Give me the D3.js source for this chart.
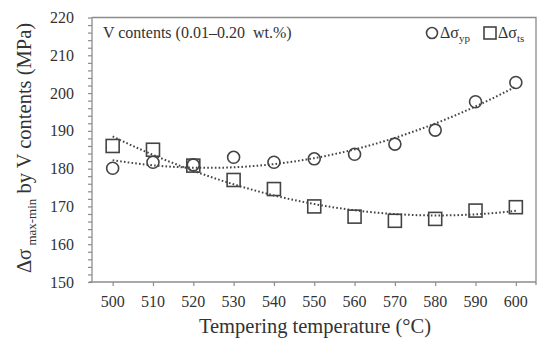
<!DOCTYPE html>
<html>
<head>
<meta charset="utf-8">
<script src="https://cdn.jsdelivr.net/npm/d3@7"></script>
<style>
  body { margin: 0; background: #fff; }
  svg text { font-family: 'Liberation Serif'; fill: #333; }
</style>
</head>
<body>
<svg id="plot"></svg>
<script>
// Data
const temps = [500, 510, 520, 530, 540, 550, 560, 570, 580, 590, 600];
const sigmaYp = [180.1, 181.7, 181.0, 183.0, 181.7, 182.6, 183.8, 186.5, 190.2, 197.7, 202.8];
const sigmaTs = [186.0, 185.0, 180.8, 177.0, 174.6, 170.0, 167.3, 166.2, 166.7, 168.9, 169.8];
const yTicks = [150, 160, 170, 180, 190, 200, 210, 220];

let width = 550;
let height = 349;
let plot = { left: 92, right: 536, top: 17.5, bottom: 282 };
let axisColor = '#8c8c8c';
let markColor = '#444';
let serif = "'Liberation Serif'";

let svg = d3.select('#plot')
    .attr('width', width)
    .attr('height', height);

// Scales (category axis, points in the middle of each slot)
let xScale = d3.scalePoint()
    .domain(temps)
    .range([plot.left + 0.5, plot.right])
    .padding(0.5);
let xLin = d3.scaleLinear()
    .domain([500, 600])
    .range([xScale(500), xScale(600)]);
let yScale = d3.scaleLinear()
    .domain([150, 220])
    .range([plot.bottom, plot.top]);

// Frame: top and right border
svg.append('path')
    .attr('d', `M${plot.left},${plot.top}H${plot.right}V${plot.bottom + 3}`)
    .attr('fill', 'none')
    .attr('stroke', axisColor)
    .attr('stroke-width', 1.3);

// y axis with minor ticks every 2 units
let yAxis = svg.append('g')
    .attr('transform', `translate(${plot.left}, 0)`)
    .call(d3.axisLeft(yScale).tickValues(d3.range(150, 221, 2)).tickSize(4).tickFormat(''));
yAxis.select('.domain').remove();
yAxis.selectAll('line').attr('stroke', axisColor).attr('stroke-width', 1.2);
svg.append('line')
    .attr('x1', plot.left).attr('x2', plot.left)
    .attr('y1', plot.top).attr('y2', plot.bottom)
    .attr('stroke', axisColor)
    .attr('stroke-width', 1.3);
svg.selectAll('.ylab')
    .data(yTicks)
    .enter()
    .append('text')
    .attr('class', 'ylab')
    .attr('x', 74)
    .attr('y', d => yScale(d))
    .attr('dy', '0.35em')
    .attr('text-anchor', 'end')
    .style('font-family', serif)
    .style('font-size', '16px')
    .text(d => d);

// x axis
let xAxis = svg.append('g')
    .attr('transform', `translate(0, ${plot.bottom})`)
    .call(d3.axisBottom(xScale).tickSize(4).tickFormat(''));
xAxis.select('.domain').remove();
xAxis.selectAll('line').attr('stroke', axisColor).attr('stroke-width', 1.2);
svg.append('line')
    .attr('x1', plot.left - 3).attr('x2', plot.right)
    .attr('y1', plot.bottom).attr('y2', plot.bottom)
    .attr('stroke', axisColor)
    .attr('stroke-width', 1.3);
svg.selectAll('.xlab')
    .data(temps)
    .enter()
    .append('text')
    .attr('class', 'xlab')
    .attr('x', d => xScale(d))
    .attr('y', 307)
    .attr('text-anchor', 'middle')
    .style('font-family', serif)
    .style('font-size', '16px')
    .text(d => d);

// Quadratic least-squares trend line (like the spreadsheet trendline)
function quadFit(xs, ys) {
    let mx = d3.mean(xs);
    let u = xs.map(x => x - mx);
    let s = [0, 0, 0, 0, 0], t = [0, 0, 0];
    u.forEach((x, i) => {
        for (let k = 0; k < 5; k++) s[k] += Math.pow(x, k);
        for (let k = 0; k < 3; k++) t[k] += Math.pow(x, k) * ys[i];
    });
    // solve 3x3 normal equations
    let A = [[s[0], s[1], s[2], t[0]], [s[1], s[2], s[3], t[1]], [s[2], s[3], s[4], t[2]]];
    for (let i = 0; i < 3; i++) {
        for (let j = i + 1; j < 3; j++) {
            let f = A[j][i] / A[i][i];
            for (let k = i; k < 4; k++) A[j][k] -= f * A[i][k];
        }
    }
    let c = [0, 0, 0];
    for (let i = 2; i >= 0; i--) {
        let v = A[i][3];
        for (let k = i + 1; k < 3; k++) v -= A[i][k] * c[k];
        c[i] = v / A[i][i];
    }
    return x => c[0] + c[1] * (x - mx) + c[2] * (x - mx) * (x - mx);
}

let line = d3.line()
    .x(d => xLin(d[0]))
    .y(d => yScale(d[1]));

[sigmaYp, sigmaTs].forEach(vals => {
    let f = quadFit(temps, vals);
    let pts = d3.range(500, 600.01, 2).map(x => [x, f(x)]);
    svg.append('path')
        .datum(pts)
        .attr('d', line)
        .attr('fill', 'none')
        .attr('stroke', markColor)
        .attr('stroke-width', 2)
        .attr('stroke-dasharray', '1.6,2.2');
});

// Markers
svg.selectAll('.yp')
    .data(temps)
    .enter()
    .append('circle')
    .attr('class', 'yp')
    .attr('cx', d => xScale(d))
    .attr('cy', (d, i) => yScale(sigmaYp[i]))
    .attr('r', 6)
    .attr('fill', 'none')
    .attr('stroke', markColor)
    .attr('stroke-width', 1.6);

svg.selectAll('.ts')
    .data(temps)
    .enter()
    .append('rect')
    .attr('class', 'ts')
    .attr('x', d => xScale(d) - 6.5)
    .attr('y', (d, i) => yScale(sigmaTs[i]) - 6.5)
    .attr('width', 13)
    .attr('height', 13)
    .attr('fill', 'none')
    .attr('stroke', markColor)
    .attr('stroke-width', 1.6);

// Annotation
svg.append('text')
    .attr('x', 103)
    .attr('y', 38)
    .attr('xml:space', 'preserve')
    .style('font-family', serif)
    .style('font-size', '16px')
    .text('V contents (0.01–0.20  wt.%)');

// Legend
let legend = svg.append('g');
legend.append('circle')
    .attr('cx', 432).attr('cy', 33).attr('r', 5.5)
    .attr('fill', 'none').attr('stroke', markColor).attr('stroke-width', 1.6);
let t1 = legend.append('text').attr('x', 440).attr('y', 38)
    .style('font-family', serif).style('font-size', '16px');
t1.append('tspan').text('Δσ');
t1.append('tspan').attr('dy', 4).style('font-size', '11px').text('yp');
legend.append('rect')
    .attr('x', 484).attr('y', 27).attr('width', 12).attr('height', 12)
    .attr('fill', 'none').attr('stroke', markColor).attr('stroke-width', 1.6);
let t2 = legend.append('text').attr('x', 498).attr('y', 38)
    .style('font-family', serif).style('font-size', '16px');
t2.append('tspan').text('Δσ');
t2.append('tspan').attr('dy', 4).style('font-size', '11px').text('ts');

// Axis titles
svg.append('text')
    .attr('x', 315)
    .attr('y', 333)
    .attr('text-anchor', 'middle')
    .style('font-family', serif)
    .style('font-size', '20.5px')
    .text('Tempering temperature (°C)');

let yTitle = svg.append('text')
    .attr('transform', 'translate(31, 148) rotate(-90)')
    .attr('text-anchor', 'middle')
    .style('font-family', serif)
    .style('font-size', '20.5px');
yTitle.append('tspan').text('Δσ');
yTitle.append('tspan').attr('dy', 5).style('font-size', '13px').text(' max-min');
yTitle.append('tspan').attr('dy', -5).text(' by V contents (MPa)');
</script>
</body>
</html>
